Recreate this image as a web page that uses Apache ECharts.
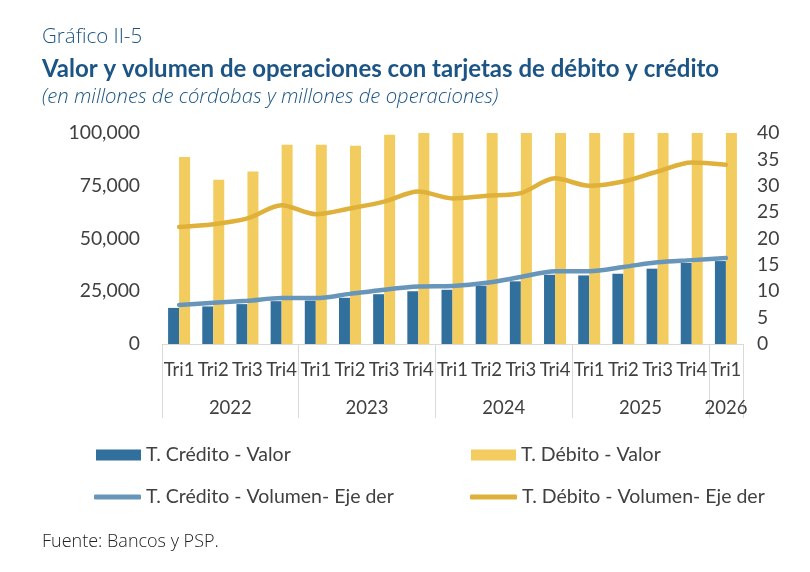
<!DOCTYPE html>
<html>
<head>
<meta charset="utf-8">
<script src="https://cdn.jsdelivr.net/npm/echarts@6/dist/echarts.min.js"></script>
<style>
 html,body{margin:0;padding:0;background:#fff;}
 #chart{width:810px;height:572px;}
</style>
</head>
<body>
<div id="chart"></div>
<script>
// datos (millones de córdobas / millones de operaciones)
var quarters = ['Tri1','Tri2','Tri3','Tri4','Tri1','Tri2','Tri3','Tri4','Tri1','Tri2','Tri3','Tri4','Tri1','Tri2','Tri3','Tri4','Tri1'];
var years = ['2022','2023','2024','2025','2026'];
var yearQuarters = [4,4,4,4,1];
var creditoValor = [17100,17800,18900,20300,20600,21900,23600,25000,25700,27600,29700,32800,32500,33300,35700,38400,39300];
// barras de débito recortadas en 100,000 a partir de 2023 Tri4 (valores estimados)
var debitoValor = [88600,77900,81700,94400,94400,94000,99200,101000,103000,104000,106000,109000,108000,110000,112000,115000,114000];
var creditoVol = [7.4,7.8,8.2,8.7,8.7,9.5,10.3,10.9,11.0,11.6,12.7,13.8,13.8,14.6,15.5,15.9,16.3];
var debitoVol = [22.2,22.7,23.8,26.3,24.6,25.7,27.0,28.9,27.6,28.1,28.6,31.4,30.0,30.8,32.7,34.4,34.0];

var C = {credito:'#31709c', debito:'#f3cc5f', lineCred:'#6895ba', lineDeb:'#dfb13a',
         ink:'#404040', title:'#1c5585', grid:'#d9d9d9'};
var FONT = 'Lato';
var TFONT = 'Open Sans';

// separadores y centros de año en la escala 0..17
var bounds = [0], centers = [], acc = 0;
yearQuarters.forEach(function(n){ centers.push(acc + n/2); acc += n; bounds.push(acc); });
var yearAt = {};
centers.forEach(function(c,i){ yearAt[c] = years[i]; });

var chart = echarts.init(document.getElementById('chart'), null, {renderer:'canvas'});

function legendItem(name, left, top, icon, w, h){
  return {data:[name], left:left, top:top, icon:icon, itemWidth:w, itemHeight:h,
          padding:0, itemGap:0, selectedMode:false,
          textStyle:{color:C.ink, fontFamily:FONT, fontSize:19.5}};
}

chart.setOption({
  backgroundColor:'#fff',
  animation:false,
  textStyle:{fontFamily:FONT},
  title:[
    {text:'Gráfico II-5', left:42, top:27, padding:0,
     textStyle:{fontFamily:TFONT, fontSize:20.5, fontWeight:300, color:C.title}},
    {text:'Valor y volumen de operaciones con tarjetas de débito y crédito', left:42, top:57, padding:0,
     textStyle:{fontFamily:FONT, fontSize:24, fontWeight:'bold', color:C.title}},
    {text:'(en millones de córdobas y millones de operaciones)', left:42, top:87, padding:0,
     textStyle:{fontFamily:TFONT, fontSize:20.3, fontStyle:'italic', fontWeight:300, color:C.title}},
    {text:'Fuente: Bancos y PSP.', left:42, top:533, padding:0,
     textStyle:{fontFamily:TFONT, fontSize:18, fontWeight:300, color:'#222'}}
  ],
  legend:[
    legendItem('T. Crédito - Valor', 96, 445, 'rect', 45, 11),
    legendItem('T. Débito - Valor', 471, 445, 'rect', 45, 11),
    legendItem('T. Crédito - Volumen- Eje der', 94, 487, 'roundRect', 47, 5),
    legendItem('T. Débito - Volumen- Eje der', 470, 487, 'roundRect', 47, 5)
  ],
  grid:{left:162, right:67, top:133, bottom:228, containLabel:false},
  xAxis:[
    {type:'category', data:quarters, position:'bottom',
     axisLine:{show:true, lineStyle:{color:C.grid, width:1}},
     axisTick:{show:false},
     axisLabel:{color:C.ink, fontFamily:FONT, fontSize:18.5, margin:17, interval:0}},
    {type:'value', min:0, max:quarters.length, position:'bottom',
     axisLine:{show:false},
     axisTick:{show:true, customValues:bounds, length:74, lineStyle:{color:C.grid, width:1}},
     axisLabel:{show:true, customValues:centers, margin:55, color:C.ink, fontFamily:FONT, fontSize:18.5,
                formatter:function(v){ return yearAt[v] || ''; }},
     splitLine:{show:false}}
  ],
  yAxis:[
    {type:'value', min:0, max:100000, interval:25000,
     axisLine:{show:false}, axisTick:{show:false}, splitLine:{show:false},
     axisLabel:{color:C.ink, fontFamily:FONT, fontSize:19.3, margin:22,
                formatter:function(v){ return v.toLocaleString('en-US'); }}},
    {type:'value', min:0, max:40, interval:5, position:'right',
     axisLine:{show:false}, axisTick:{show:false}, splitLine:{show:false},
     axisLabel:{color:C.ink, fontFamily:FONT, fontSize:19.3, margin:14}}
  ],
  series:[
    {name:'T. Crédito - Valor', type:'bar', data:creditoValor, barWidth:11, barGap:'0%',
     itemStyle:{color:C.credito}},
    {name:'T. Débito - Valor', type:'bar', data:debitoValor, barWidth:11, barGap:'0%',
     itemStyle:{color:C.debito}},
    {name:'T. Crédito - Volumen- Eje der', type:'line', yAxisIndex:1, data:creditoVol, smooth:0.3,
     symbol:'none', lineStyle:{color:C.lineCred, width:4.5, cap:'round'}, itemStyle:{color:C.lineCred}},
    {name:'T. Débito - Volumen- Eje der', type:'line', yAxisIndex:1, data:debitoVol, smooth:0.3,
     symbol:'none', lineStyle:{color:C.lineDeb, width:4.5, cap:'round'}, itemStyle:{color:C.lineDeb}}
  ]
});
</script>
</body>
</html>
